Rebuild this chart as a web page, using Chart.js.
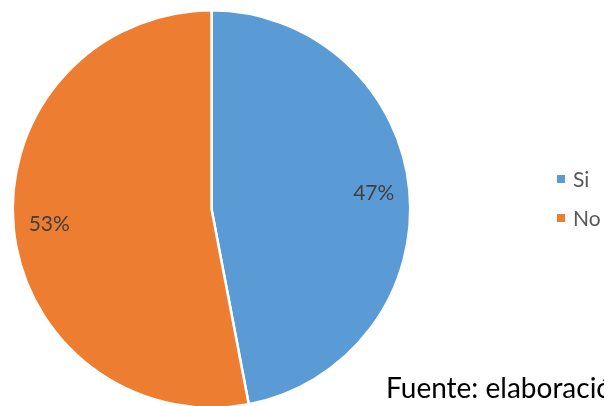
<!DOCTYPE html>
<html>
<head>
<meta charset="utf-8">
<script src="https://cdn.jsdelivr.net/npm/chart.js@4.4.0/dist/chart.umd.min.js"></script>
<style>
body { margin: 0; overflow: hidden; background: #fff; }
#wrap { position: relative; width: 604px; height: 406px; overflow: hidden; }
#pie { position: absolute; left: 0; top: 0; }
#src { position: absolute; left: 386px; top: 370px; font-family: Lato, "Open Sans", sans-serif;
       font-size: 28px; color: #000; white-space: nowrap; }
</style>
</head>
<body>
<div id="wrap">
<canvas id="pie" width="604" height="420"></canvas>
<div id="src">Fuente: elaboración propia</div>
</div>
<script>
var labels = ['Si', 'No'];
var values = [47, 53];
var colors = ['#5B9BD5', '#ED7D31'];

// percent labels inside the slices
var pctLabels = {
    id: 'pctLabels',
    afterDatasetsDraw: function(chart) {
	var ctx = chart.ctx;
	var meta = chart.getDatasetMeta(0);
	var total = values.reduce(function(a, b){return a + b;}, 0);
	ctx.save();
	ctx.font = '21px Lato, "Open Sans", sans-serif';
	ctx.fillStyle = '#404040';
	ctx.textAlign = 'center';
	ctx.textBaseline = 'middle';
	meta.data.forEach(function(arc, i) {
	    var p = arc.getProps(['x', 'y', 'startAngle', 'endAngle', 'outerRadius'], true);
	    var mid = (p.startAngle + p.endAngle) / 2;
	    var r = p.outerRadius * 0.82;
	    var txt = Math.round(values[i] / total * 100) + '%';
	    ctx.fillText(txt, p.x + Math.cos(mid) * r, p.y + Math.sin(mid) * r);
	});
	ctx.restore();
    }
};

// legend on the right
var sideLegend = {
    id: 'sideLegend',
    afterDraw: function(chart) {
	var ctx = chart.ctx;
	var x = 557, y0 = 179, step = 39;
	ctx.save();
	ctx.font = '21px Lato, "Open Sans", sans-serif';
	ctx.textBaseline = 'middle';
	labels.forEach(function(l, i) {
	    var y = y0 + i * step;
	    ctx.fillStyle = colors[i];
	    ctx.fillRect(x, y - 4, 8, 8);
	    ctx.fillStyle = '#595959';
	    ctx.fillText(l, x + 16, y + 1);
	});
	ctx.restore();
    }
};

new Chart(document.getElementById('pie'), {
    type: 'pie',
    data: {
	labels: labels,
	datasets: [{
	    data: values,
	    backgroundColor: colors,
	    borderColor: '#ffffff',
	    borderWidth: 2.5
	}]
    },
    options: {
	responsive: false,
	animation: false,
	layout: {
	    padding: { left: 11, top: 9, right: 192, bottom: 11 }
	},
	plugins: {
	    legend: { display: false },
	    tooltip: { enabled: false }
	}
    },
    plugins: [pctLabels, sideLegend]
});
</script>
</body>
</html>
